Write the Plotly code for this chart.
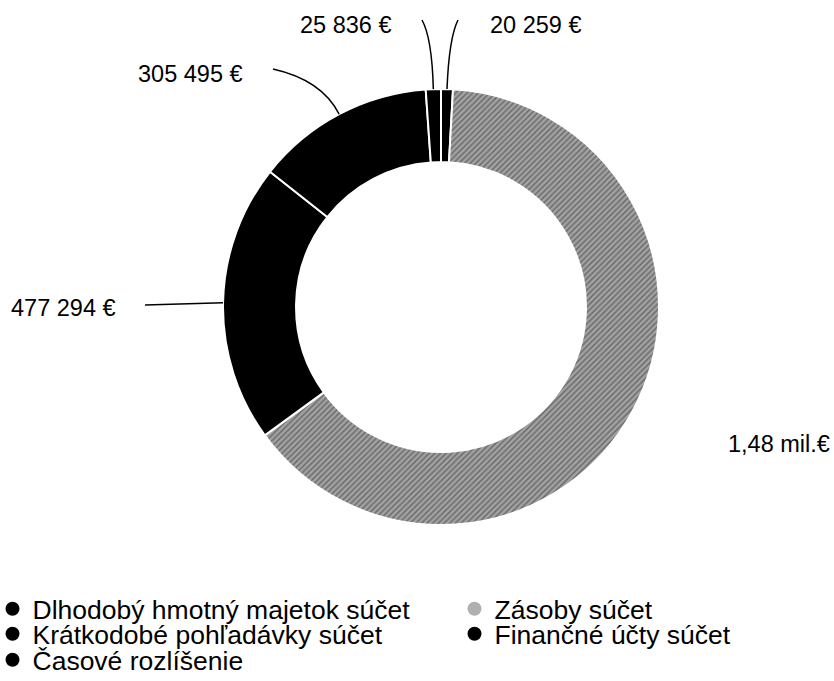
import math
import plotly.graph_objects as go

# ---- data ----
categories = ["Dlhodobý hmotný majetok súčet", "Zásoby súčet", "Krátkodobé pohľadávky súčet",
              "Finančné účty súčet", "Časové rozlíšenie"]
values = [20259, 1480000, 477294, 305495, 25836]
value_labels = ["20 259 €", "1,48 mil.€", "477 294 €", "305 495 €", "25 836 €"]

# ---- styling / layout ----
W, H = 834, 681
FONT = "Liberation Sans, Arial, sans-serif"
slice_colors = ["#000000", "#a2a2a2", "#000000", "#000000", "#000000"]
legend_colors = ["#000000", "#b0b0b0", "#000000", "#000000", "#000000"]
patterns = ["", "/", "", "", ""]

CX, CY, R = 441, 307, 218          # pie centre / radius in pixels
HOLE = 0.665

# label text centres (pixels) and leader-line starts (None = no line)
label_pos = [(535, 25), (779, 444), (64, 308), (190, 74), (345, 25)]
line_start = [(458, 20), None, (145, 305), (273, 69), (422, 20)]
line_ctrl = [(449, 38), None, None, (322, 80), (432, 38)]

# legend entry positions: (symbol centre x, row centre y) in pixels
legend_pos = [(12.5, 609), (474.5, 609), (12.5, 634), (474.5, 634), (12.5, 660)]


def px(x):
    return x / W


def py(y):
    return 1 - y / H


fig = go.Figure()
fig.add_trace(go.Pie(
    labels=categories, values=values, sort=False, direction="clockwise", rotation=0,
    hole=HOLE, textinfo="none", hoverinfo="label+value", showlegend=False,
    marker=dict(colors=slice_colors, line=dict(color="white", width=2),
                pattern=dict(shape=patterns, fgcolor="#2a2a2a", size=4, solidity=0.35,
                             fillmode="overlay")),
    domain=dict(x=[px(CX - R), px(CX + R)], y=[py(CY + R), py(CY - R)]),
))

# legend entries as circle markers, one small legend each
for i, (name, col) in enumerate(zip(categories, legend_colors)):
    lid = "legend" if i == 0 else f"legend{i + 1}"
    fig.add_trace(go.Scatter(x=[None], y=[None], mode="markers", name=name,
                             marker=dict(color=col, size=14, symbol="circle"),
                             showlegend=True, legend=lid))
    mx, my = legend_pos[i]
    fig.update_layout({lid: dict(x=px(mx - 20), y=py(my), xanchor="left", yanchor="middle",
                                 orientation="v", bgcolor="rgba(0,0,0,0)",
                                 font=dict(family=FONT, size=26.5, color="#000"),
                                 itemclick=False, itemdoubleclick=False)})

# value labels and leader lines
total = sum(values)
cum = 0
shapes = []
annotations = []
for i, v in enumerate(values):
    mid = (cum + v / 2) / total * 2 * math.pi
    cum += v
    tx = CX + R * math.sin(mid)
    ty = CY - R * math.cos(mid)
    lx, ly = label_pos[i]
    annotations.append(dict(x=px(lx), y=py(ly), xref="paper", yref="paper",
                            xanchor="center", yanchor="middle",
                            text=value_labels[i], showarrow=False,
                            font=dict(family=FONT, size=23.5, color="#000")))
    if line_start[i] is not None:
        sx, sy = line_start[i]
        if line_ctrl[i] is None:
            path = f"M {px(sx)},{py(sy)} L {px(tx)},{py(ty)}"
        else:
            cx, cy = line_ctrl[i]
            path = f"M {px(sx)},{py(sy)} Q {px(cx)},{py(cy)} {px(tx)},{py(ty)}"
        shapes.append(dict(type="path", xref="paper", yref="paper", path=path,
                           line=dict(color="#000", width=1.5)))

fig.update_layout(
    width=W, height=H,
    margin=dict(l=0, r=0, t=0, b=0, autoexpand=False),
    paper_bgcolor="white", plot_bgcolor="white",
    xaxis=dict(visible=False), yaxis=dict(visible=False),
    shapes=shapes, annotations=annotations,
    font=dict(family=FONT, color="#000"),
)

fig.write_html("out.html", config={"displayModeBar": False},
               post_script="document.body.style.margin='0';")
